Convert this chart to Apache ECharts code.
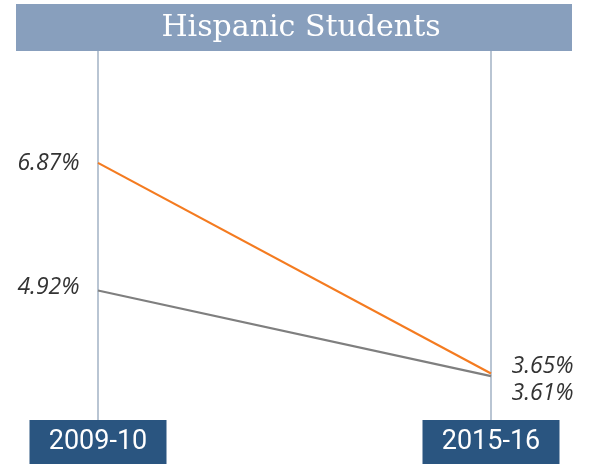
<!DOCTYPE html>
<html>
<head>
<meta charset="utf-8">
<script src="https://cdn.jsdelivr.net/npm/echarts@6/dist/echarts.min.js"></script>
<style>
html,body{margin:0;padding:0;background:#fff;}
#chart{width:593px;height:465px;}
</style>
</head>
<body>
<div id="chart"></div>
<script>
const title = 'Hispanic Students';
const categories = ['2009-10', '2015-16'];
const seriesOrange = [6.87, 3.65];
const seriesGray = [4.92, 3.61];
const labelsOrange = ['6.87%', '3.65%'];
const labelsGray = ['4.92%', '3.61%'];

const chart = echarts.init(document.getElementById('chart'), null, {renderer: 'canvas'});

const labelFont = {fontFamily: 'Open Sans', fontStyle: 'italic', fontSize: 23, color: '#333333'};

function buildData(values, labels, offsets) {
  return values.map((v, i) => ({
    value: v,
    label: Object.assign({
      show: true,
      formatter: labels[i],
      position: i === 0 ? 'left' : 'right',
      distance: i === 0 ? 18 : 20,
      offset: offsets[i]
    }, labelFont)
  }));
}

chart.setOption({
  animation: false,
  title: {
    text: title,
    left: 296,
    top: 8,
    textAlign: 'center',
    textStyle: {color: '#ffffff', fontFamily: 'DejaVu Serif', fontWeight: 'normal', fontSize: 30}
  },
  graphic: [{
    type: 'rect', z: -1,
    shape: {x: 16, y: 4, width: 556, height: 47},
    style: {fill: '#889fbd'}
  }],
  grid: {left: 98, right: 102, top: 51, bottom: 45},
  xAxis: {
    type: 'category',
    data: categories,
    boundaryGap: false,
    axisLine: {show: false},
    axisTick: {show: false},
    splitLine: {show: true, lineStyle: {color: '#a2b2c5', width: 1.5}},
    axisLabel: {
      margin: 0,
      interval: 0,
      color: '#ffffff',
      fontFamily: 'Roboto',
      fontSize: 27,
      backgroundColor: '#2a5580',
      width: 137,
      height: 44,
      lineHeight: 44,
      align: 'center',
      verticalAlign: 'top'
    }
  },
  yAxis: {
    type: 'value',
    min: 2.94,
    max: 8.58,
    show: false,
    splitLine: {show: false}
  },
  series: [
    {
      type: 'line',
      data: buildData(seriesOrange, labelsOrange, [[0, 1], [0, -7]]),
      symbol: 'circle',
      symbolSize: 1,
      showSymbol: true,
      itemStyle: {color: 'rgba(0,0,0,0)'},
      lineStyle: {color: '#f47b20', width: 2.2},
      z: 3
    },
    {
      type: 'line',
      data: buildData(seriesGray, labelsGray, [[0, -3], [0, 17]]),
      symbol: 'circle',
      symbolSize: 1,
      showSymbol: true,
      itemStyle: {color: 'rgba(0,0,0,0)'},
      lineStyle: {color: '#7f7f7f', width: 2.2},
      z: 2
    }
  ]
});
</script>
</body>
</html>
